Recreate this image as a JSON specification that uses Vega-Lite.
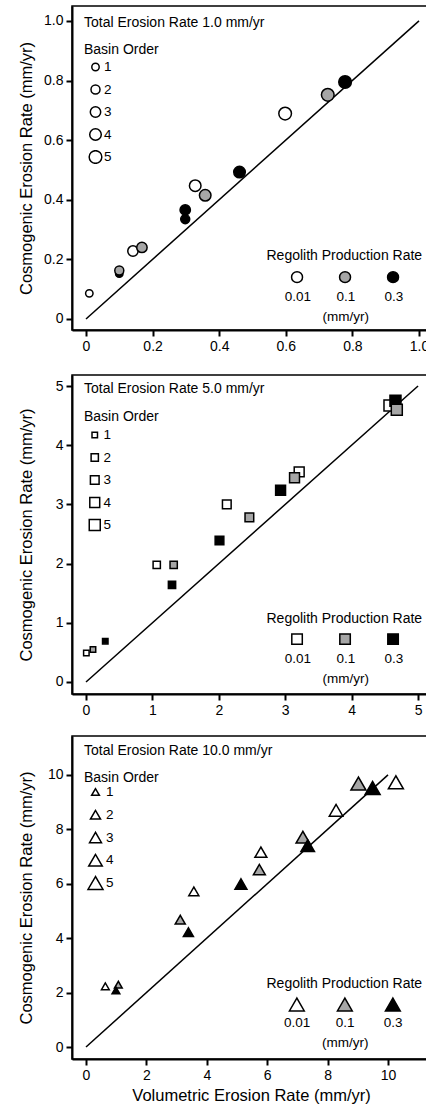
{
  "$schema": "https://vega.github.io/schema/vega-lite/v6.json",
  "padding": {"left": 17, "top": 5, "right": 0, "bottom": 0},
  "config": {
    "font": "Liberation Sans",
    "view": {"stroke": "black", "strokeWidth": 1.5},
    "axis": {"domainColor": "black", "domainWidth": 2, "tickColor": "black", "tickWidth": 2, "tickSize": 6, "labelFont": "Liberation Sans", "labelFontSize": 14, "labelColor": "black", "labelPadding": 3, "titleFont": "Liberation Sans", "titleFontSize": 16.5, "titleFontWeight": "normal", "titleColor": "black", "grid": false},
    "legend": {"labelFont": "Liberation Sans", "titleFont": "Liberation Sans", "labelFontSize": 13.5, "titleFontSize": 14, "titleFontWeight": "normal", "labelColor": "black", "titleColor": "black", "titleLimit": 320}
  },
  "resolve": {"scale": {"size": "independent", "fill": "independent"}, "legend": {"size": "independent", "fill": "independent"}},
  "vconcat": [
    {
      "resolve": {"scale": {"size": "independent", "fill": "independent"}, "legend": {"size": "independent", "fill": "independent"}},
      "vconcat": [
        {
          "width": 358, "height": 324,
          "layer": [
            {
              "data": {"values": [{"x": 0, "y": 0}, {"x": 1, "y": 1}]},
              "mark": {"type": "line", "color": "black", "strokeWidth": 1.5},
              "encoding": {
                "x": {"field": "x", "type": "quantitative", "scale": {"domain": [-0.042, 1.033], "nice": false, "zero": false}, "axis": {"title": null, "values": [0, 0.2, 0.4, 0.6, 0.8, 1.0], "labelExpr": "datum.value == 0 ? '0' : format(datum.value, '.1f')"}},
                "y": {"field": "y", "type": "quantitative", "scale": {"domain": [-0.037, 1.05], "nice": false, "zero": false}, "axis": {"title": "Cosmogenic Erosion Rate (mm/yr)", "titleX": -46, "titleBaseline": "middle", "values": [0, 0.2, 0.4, 0.6, 0.8, 1.0], "labelExpr": "datum.value == 0 ? '0' : format(datum.value, '.1f')"}}
              }
            },
            {
              "data": {"values": [
                {"x": 0.010, "y": 0.086, "rate": "0.01", "order": 1},
                {"x": 0.141, "y": 0.228, "rate": "0.01", "order": 3},
                {"x": 0.328, "y": 0.447, "rate": "0.01", "order": 4},
                {"x": 0.598, "y": 0.689, "rate": "0.01", "order": 5},
                {"x": 0.100, "y": 0.152, "rate": "0.3", "order": 1},
                {"x": 0.298, "y": 0.335, "rate": "0.3", "order": 2},
                {"x": 0.298, "y": 0.366, "rate": "0.3", "order": 3},
                {"x": 0.461, "y": 0.493, "rate": "0.3", "order": 4},
                {"x": 0.778, "y": 0.795, "rate": "0.3", "order": 5},
                {"x": 0.100, "y": 0.163, "rate": "0.1", "order": 2},
                {"x": 0.168, "y": 0.240, "rate": "0.1", "order": 3},
                {"x": 0.358, "y": 0.415, "rate": "0.1", "order": 4},
                {"x": 0.726, "y": 0.752, "rate": "0.1", "order": 5}
              ]},
              "mark": {"type": "point", "shape": "circle", "filled": true, "stroke": "black", "strokeWidth": 1.5, "opacity": 1},
              "encoding": {
                "x": {"field": "x", "type": "quantitative"},
                "y": {"field": "y", "type": "quantitative"},
                "fill": {"field": "rate", "type": "nominal", "scale": {"domain": ["0.01", "0.1", "0.3"], "range": ["white", "#a6a6a6", "black"]},
                  "legend": {"title": "Regolith Production Rate", "orient": "none", "legendX": 195, "legendY": 238, "direction": "horizontal", "symbolType": "circle", "symbolSize": 120, "symbolStrokeColor": "black", "symbolStrokeWidth": 1.5, "symbolOpacity": 1, "symbolOffset": 10.3, "labelAlign": "center", "labelBaseline": "top", "labelOffset": -6, "gridAlign": "all", "columnPadding": 0, "titlePadding": 12, "labelExpr": "datum.label == '0.1' ? ['0.1', '(mm/yr)'] : [datum.label, ' ']", "encode": {"title": {"update": {"dx": {"value": -13.5}, "dy": {"value": 5}}}, "labels": {"update": {"dy": {"value": 13}, "lineHeight": {"value": 20}}}}}},
                "size": {"field": "order", "type": "quantitative", "scale": {"domain": [1, 5], "range": [55, 160]},
                  "legend": {"title": ["Total Erosion Rate 1.0 mm/yr", "Basin Order"], "titleLineHeight": 27, "orient": "none", "legendX": 12, "legendY": 10, "values": [1, 2, 3, 4, 5], "format": "d", "symbolType": "circle", "symbolFillColor": "white", "symbolStrokeColor": "black", "symbolStrokeWidth": 1.5, "symbolOpacity": 1, "clipHeight": 14, "rowPadding": 8.5, "symbolOffset": 4, "labelOffset": 1, "titlePadding": 3}}
              }
            }
          ]
        },
        {
          "width": 358, "height": 319,
          "layer": [
            {
              "data": {"values": [{"x": 0, "y": 0}, {"x": 5, "y": 5}]},
              "mark": {"type": "line", "color": "black", "strokeWidth": 1.5},
              "encoding": {
                "x": {"field": "x", "type": "quantitative", "scale": {"domain": [-0.211, 5.18], "nice": false, "zero": false}, "axis": {"title": null, "values": [0, 1, 2, 3, 4, 5], "format": "d"}},
                "y": {"field": "y", "type": "quantitative", "scale": {"domain": [-0.203, 5.186], "nice": false, "zero": false}, "axis": {"title": "Cosmogenic Erosion Rate (mm/yr)", "titleX": -46, "titleBaseline": "middle", "values": [0, 1, 2, 3, 4, 5], "format": "d"}}
              }
            },
            {
              "data": {"values": [
                {"x": 0.005, "y": 0.49, "rate": "0.01", "order": 1},
                {"x": 1.065, "y": 1.98, "rate": "0.01", "order": 2},
                {"x": 2.12, "y": 3.00, "rate": "0.01", "order": 3},
                {"x": 3.21, "y": 3.55, "rate": "0.01", "order": 4},
                {"x": 4.57, "y": 4.67, "rate": "0.01", "order": 5},
                {"x": 0.29, "y": 0.69, "rate": "0.3", "order": 1},
                {"x": 1.295, "y": 1.64, "rate": "0.3", "order": 2},
                {"x": 2.01, "y": 2.39, "rate": "0.3", "order": 3},
                {"x": 2.93, "y": 3.24, "rate": "0.3", "order": 4},
                {"x": 4.66, "y": 4.75, "rate": "0.3", "order": 5},
                {"x": 0.105, "y": 0.55, "rate": "0.1", "order": 1},
                {"x": 1.32, "y": 1.98, "rate": "0.1", "order": 2},
                {"x": 2.46, "y": 2.78, "rate": "0.1", "order": 3},
                {"x": 3.14, "y": 3.45, "rate": "0.1", "order": 4},
                {"x": 4.68, "y": 4.60, "rate": "0.1", "order": 5}
              ]},
              "mark": {"type": "point", "shape": "square", "filled": true, "stroke": "black", "strokeWidth": 1.5, "opacity": 1},
              "encoding": {
                "x": {"field": "x", "type": "quantitative"},
                "y": {"field": "y", "type": "quantitative"},
                "fill": {"field": "rate", "type": "nominal", "scale": {"domain": ["0.01", "0.1", "0.3"], "range": ["white", "#a6a6a6", "black"]},
                  "legend": {"title": "Regolith Production Rate", "orient": "none", "legendX": 195, "legendY": 232, "direction": "horizontal", "symbolType": "square", "symbolSize": 110, "symbolStrokeColor": "black", "symbolStrokeWidth": 1.5, "symbolOpacity": 1, "symbolOffset": 10.3, "labelAlign": "center", "labelBaseline": "top", "labelOffset": -6, "gridAlign": "all", "columnPadding": 0, "titlePadding": 11, "labelExpr": "datum.label == '0.1' ? ['0.1', '(mm/yr)'] : [datum.label, ' ']", "encode": {"title": {"update": {"dx": {"value": -13.5}, "dy": {"value": 5}}}, "labels": {"update": {"dy": {"value": 13}, "lineHeight": {"value": 20}}}}}},
                "size": {"field": "order", "type": "quantitative", "scale": {"domain": [1, 5], "range": [30, 121]},
                  "legend": {"title": ["Total Erosion Rate 5.0 mm/yr", "Basin Order"], "titleLineHeight": 28, "orient": "none", "legendX": 12, "legendY": 7, "values": [1, 2, 3, 4, 5], "format": "d", "symbolType": "square", "symbolFillColor": "white", "symbolStrokeColor": "black", "symbolStrokeWidth": 1.5, "symbolOpacity": 1, "clipHeight": 14, "rowPadding": 8.5, "symbolOffset": 4, "labelOffset": 2, "titlePadding": 4}}
              }
            }
          ]
        }
      ],
      "spacing": 20
    },
    {
      "width": 358, "height": 323,
      "layer": [
        {
          "data": {"values": [{"x": 0, "y": 0}, {"x": 10, "y": 10}]},
          "mark": {"type": "line", "color": "black", "strokeWidth": 1.5},
          "encoding": {
            "x": {"field": "x", "type": "quantitative", "scale": {"domain": [-0.464, 11.39], "nice": false, "zero": false}, "axis": {"title": "Volumetric Erosion Rate (mm/yr)", "titlePadding": 5, "values": [0, 2, 4, 6, 8, 10], "format": "d"}},
            "y": {"field": "y", "type": "quantitative", "scale": {"domain": [-0.441, 11.43], "nice": false, "zero": false}, "axis": {"title": "Cosmogenic Erosion Rate (mm/yr)", "titleX": -46, "titleBaseline": "middle", "values": [0, 2, 4, 6, 8, 10], "format": "d"}}
          }
        },
        {
          "data": {"values": [
            {"x": 0.64, "y": 2.23, "rate": "0.01", "order": 1},
            {"x": 3.57, "y": 5.72, "rate": "0.01", "order": 2},
            {"x": 5.79, "y": 7.16, "rate": "0.01", "order": 3},
            {"x": 8.28, "y": 8.70, "rate": "0.01", "order": 4},
            {"x": 10.26, "y": 9.73, "rate": "0.01", "order": 5},
            {"x": 1.07, "y": 2.29, "rate": "0.1", "order": 1},
            {"x": 3.12, "y": 4.68, "rate": "0.1", "order": 2},
            {"x": 5.74, "y": 6.52, "rate": "0.1", "order": 3},
            {"x": 7.18, "y": 7.71, "rate": "0.1", "order": 4},
            {"x": 9.02, "y": 9.68, "rate": "0.1", "order": 5},
            {"x": 0.99, "y": 2.08, "rate": "0.3", "order": 1},
            {"x": 3.39, "y": 4.22, "rate": "0.3", "order": 2},
            {"x": 5.13, "y": 5.99, "rate": "0.3", "order": 3},
            {"x": 7.34, "y": 7.40, "rate": "0.3", "order": 4},
            {"x": 9.49, "y": 9.52, "rate": "0.3", "order": 5}
          ]},
          "mark": {"type": "point", "shape": "triangle-up", "filled": true, "stroke": "black", "strokeWidth": 1.5, "opacity": 1},
          "encoding": {
            "x": {"field": "x", "type": "quantitative"},
            "y": {"field": "y", "type": "quantitative"},
            "fill": {"field": "rate", "type": "nominal", "scale": {"domain": ["0.01", "0.1", "0.3"], "range": ["white", "#a6a6a6", "black"]},
              "legend": {"title": "Regolith Production Rate", "orient": "none", "legendX": 195, "legendY": 233, "direction": "horizontal", "symbolType": "triangle-up", "symbolSize": 220, "symbolStrokeColor": "black", "symbolStrokeWidth": 1.5, "symbolOpacity": 1, "symbolOffset": 8.35, "labelAlign": "center", "labelBaseline": "top", "labelOffset": -8.15, "gridAlign": "all", "columnPadding": 0, "titlePadding": 13, "labelExpr": "datum.label == '0.1' ? ['0.1', '(mm/yr)'] : [datum.label, ' ']", "encode": {"title": {"update": {"dx": {"value": -13.5}, "dy": {"value": 8}}}, "labels": {"update": {"dy": {"value": 11}, "lineHeight": {"value": 20}}}}}},
            "size": {"field": "order", "type": "quantitative", "scale": {"domain": [1, 5], "range": [60, 225]},
              "legend": {"title": ["Total Erosion Rate 10.0 mm/yr", "Basin Order"], "titleLineHeight": 27, "orient": "none", "legendX": 12, "legendY": 8, "values": [1, 2, 3, 4, 5], "format": "d", "symbolType": "triangle-up", "symbolFillColor": "white", "symbolStrokeColor": "black", "symbolStrokeWidth": 1.5, "symbolOpacity": 1, "clipHeight": 16, "rowPadding": 6.75, "symbolOffset": 3, "labelOffset": 2, "titlePadding": -1}}
          }
        }
      ]
    }
  ],
  "spacing": 17
}
